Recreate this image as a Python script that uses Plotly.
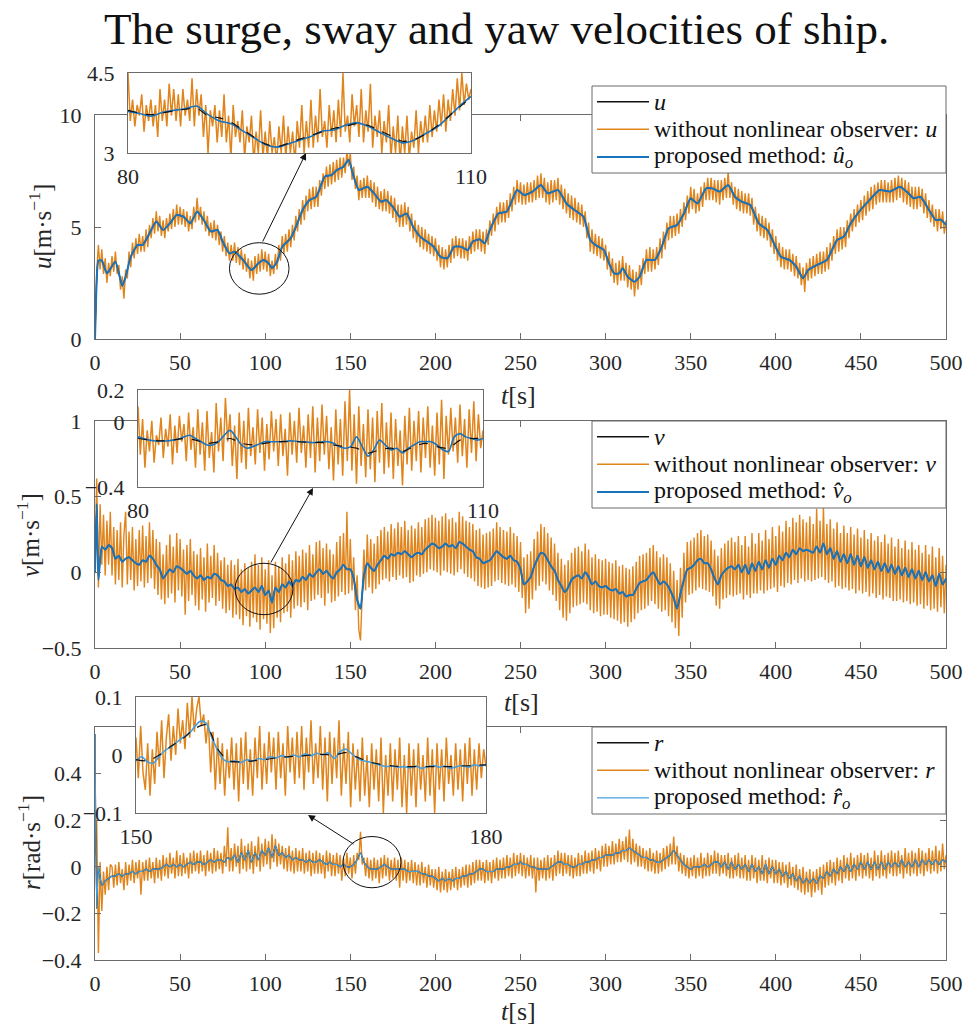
import numpy as np
import plotly.graph_objects as go

# ---------------- DATA ----------------
# main time base for noisy signal (1 s)
t_main = list(range(0, 501))

# ---- surge velocity u ----
u_blue_t = [0, 1, 2, 4, 7, 12, 16, 18, 21, 25, 28, 31, 36, 40, 44, 48, 52, 56, 60, 64, 68, 72, 75, 79, 82,
            87, 92, 96, 99, 102, 104, 107, 110, 115, 118, 122, 126, 130, 135, 139, 142, 146, 149, 152, 155,
            160, 164, 168, 171, 175, 179, 183, 187, 191, 195, 199, 203, 207, 211, 215, 219, 222, 226, 229, 232,
            237, 242, 248, 252, 257, 262, 266, 272, 277, 283, 287, 291, 294, 299, 302, 305, 308, 310, 313, 317,
            320, 324, 329, 333, 337, 342, 346, 350, 354, 359, 363, 367, 372, 376, 380, 385, 390, 395, 398, 403,
            408, 412, 416, 419, 424, 430, 436, 440, 444, 449, 455, 461, 467, 473, 478, 481, 485, 490, 494, 497, 500]
u_blue = [0, 2.6, 3.5, 3.5, 2.93, 3.45, 2.37, 2.78, 3.67, 4.2, 4.2, 4.57, 5.24, 4.87, 5.16, 5.54, 5.46, 5.16, 5.69, 5.3,
          4.8, 4.87, 4.35, 3.82, 3.9, 3.53, 3.08, 3.38, 3.53, 3.38, 3.16, 3.45, 4.12, 4.5, 5.0, 5.76, 6.2, 6.35, 7.25, 7.32,
          7.54, 7.69, 8.0, 7.25, 6.65, 6.8, 6.5, 6.13, 6.2, 5.9, 5.46, 5.6, 5.0, 4.57, 4.35, 4.12, 3.67, 3.6, 4.12, 4.12,
          3.97, 4.35, 4.45, 4.27, 4.87, 5.6, 5.69, 6.65, 6.43, 6.58, 6.87, 6.5, 6.65, 6.05, 5.69, 5.46, 4.42, 4.2, 3.97, 3.38,
          2.93, 2.93, 3.16, 2.78, 2.56, 2.78, 3.53, 3.53, 4.12, 4.94, 5.09, 5.6, 6.28, 6.05, 6.72, 6.72, 6.58, 6.87, 6.35, 6.13,
          5.98, 5.16, 4.87, 4.42, 3.67, 3.53, 3.23, 2.71, 3.08, 3.3, 3.53, 4.42, 4.57, 5.16, 5.69, 6.2, 6.65, 6.58, 6.8, 6.5,
          6.28, 6.35, 5.76, 5.31, 5.33, 5.09]
u_true = u_blue  # true u lies under the estimate in the main view
u_orange = [
    0.0, 3.0, 4.2, 3.1, 4.0, 2.9, 3.6, 2.5, 3.4, 2.8,
    3.7, 3.0, 3.9, 2.9, 3.3, 2.2, 2.8, 1.8, 3.1, 2.7,
    3.9, 3.2, 4.3, 3.6, 4.5, 3.8, 4.7, 3.9, 4.6, 3.9,
    4.9, 4.1, 5.1, 4.5, 5.4, 4.7, 5.7, 4.8, 5.5, 4.6,
    5.3, 4.5, 5.4, 4.8, 5.6, 4.9, 5.8, 5.0, 6.0, 5.1,
    5.9, 5.1, 5.8, 5.0, 5.7, 4.8, 5.5, 4.9, 5.9, 5.2,
    6.3, 5.3, 5.9, 5.1, 5.7, 4.8, 5.5, 4.6, 5.2, 4.5,
    5.3, 4.4, 5.1, 4.2, 4.8, 3.9, 4.6, 3.7, 4.3, 3.5,
    4.2, 3.5, 4.3, 3.4, 4.1, 3.3, 4.0, 3.1, 3.8, 3.0,
    3.6, 2.7, 3.5, 2.6, 3.7, 2.9, 3.8, 3.0, 4.0, 3.1,
    3.9, 3.0, 3.8, 2.8, 3.5, 2.9, 3.8, 3.1, 4.2, 3.5,
    4.6, 3.8, 4.7, 3.9, 4.9, 4.1, 5.1, 4.4, 5.5, 4.8,
    5.8, 5.1, 6.2, 5.3, 6.4, 5.7, 6.7, 5.8, 6.8, 5.9,
    6.8, 5.9, 7.1, 6.4, 7.4, 6.7, 7.7, 6.8, 7.8, 6.9,
    7.9, 7.0, 8.0, 7.1, 8.1, 7.2, 8.1, 7.4, 8.4, 7.7,
    8.3, 7.1, 7.7, 6.7, 7.3, 6.2, 7.1, 6.3, 7.2, 6.3,
    7.3, 6.3, 7.1, 6.1, 7.0, 5.9, 6.8, 5.8, 6.6, 5.7,
    6.7, 5.7, 6.6, 5.6, 6.4, 5.4, 6.3, 5.2, 6.0, 5.0,
    6.0, 5.0, 6.1, 5.1, 5.9, 4.8, 5.6, 4.5, 5.3, 4.3,
    5.1, 4.1, 5.0, 4.0, 4.9, 3.9, 4.7, 3.8, 4.6, 3.7,
    4.5, 3.5, 4.2, 3.2, 4.1, 3.1, 4.0, 3.2, 4.2, 3.4,
    4.5, 3.6, 4.6, 3.7, 4.5, 3.6, 4.5, 3.6, 4.4, 3.5,
    4.6, 3.8, 4.8, 3.9, 4.9, 4.0, 4.9, 3.9, 4.8, 3.8,
    4.9, 4.2, 5.3, 4.6, 5.6, 4.8, 5.9, 5.1, 6.1, 5.2,
    6.1, 5.2, 6.2, 5.4, 6.5, 5.7, 6.8, 6.0, 7.1, 6.1,
    7.0, 6.0, 6.9, 6.0, 7.0, 6.1, 7.0, 6.1, 7.1, 6.2,
    7.3, 6.3, 7.4, 6.3, 7.2, 6.1, 7.0, 6.0, 7.1, 6.1,
    7.1, 6.2, 7.2, 6.0, 6.9, 5.8, 6.7, 5.6, 6.5, 5.4,
    6.4, 5.3, 6.3, 5.2, 6.1, 5.1, 6.0, 5.0, 5.7, 4.5,
    5.2, 3.9, 4.9, 3.8, 4.7, 3.7, 4.6, 3.6, 4.5, 3.5,
    4.2, 3.1, 3.9, 2.8, 3.6, 2.5, 3.4, 2.4, 3.5, 2.6,
    3.7, 2.6, 3.4, 2.3, 3.3, 2.2, 3.1, 1.9, 3.0, 2.2,
    3.3, 2.4, 3.6, 2.9, 4.0, 3.0, 4.1, 3.0, 4.0, 3.1,
    4.1, 3.3, 4.5, 3.6, 4.8, 4.0, 5.2, 4.4, 5.5, 4.5,
    5.5, 4.6, 5.6, 4.7, 5.8, 5.0, 6.1, 5.3, 6.4, 5.6,
    6.8, 5.8, 6.7, 5.6, 6.5, 5.7, 6.8, 5.9, 7.0, 6.2,
    7.2, 6.2, 7.2, 6.2, 7.1, 6.1, 7.1, 6.0, 7.1, 6.2,
    7.2, 6.3, 7.5, 6.3, 7.0, 6.0, 6.8, 5.8, 6.7, 5.7,
    6.6, 5.6, 6.5, 5.6, 6.5, 5.5, 6.3, 5.1, 5.9, 4.8,
    5.6, 4.6, 5.5, 4.5, 5.4, 4.4, 5.2, 4.1, 4.9, 3.8,
    4.6, 3.5, 4.3, 3.2, 4.1, 3.1, 4.0, 3.1, 4.0, 3.0,
    3.8, 2.8, 3.7, 2.7, 3.4, 2.4, 3.2, 2.1, 3.4, 2.6,
    3.6, 2.7, 3.7, 2.8, 3.8, 2.9, 3.9, 2.9, 3.9, 3.0,
    4.1, 3.1, 4.3, 3.5, 4.6, 3.8, 4.9, 3.9, 5.0, 4.0,
    5.0, 4.1, 5.3, 4.5, 5.6, 4.8, 5.8, 5.0, 6.0, 5.2,
    6.2, 5.3, 6.4, 5.5, 6.6, 5.7, 6.8, 5.8, 6.9, 6.0,
    7.0, 6.1, 7.1, 6.1, 7.1, 6.1, 7.0, 6.1, 7.1, 6.1,
    7.2, 6.2, 7.3, 6.3, 7.2, 6.1, 7.1, 6.0, 7.0, 5.9,
    6.8, 5.8, 6.8, 5.8, 6.8, 5.9, 6.7, 5.6, 6.5, 5.4,
    6.2, 5.2, 6.0, 5.0, 5.8, 4.8, 5.8, 4.9, 5.7, 4.7,
    5.3]

# inset u (80-110 s)
u_in_t_fast = [round(80 + 0.2 * i, 1) for i in range(151)]
u_in_orange = [
    4.5, 3.6, 4.0, 3.5, 3.9, 3.7, 4.1, 3.4, 3.9, 3.6,
    4.0, 3.5, 3.9, 3.3, 4.2, 3.6, 4.0, 3.5, 4.3, 3.7,
    4.2, 3.6, 4.1, 3.5, 4.2, 3.7, 4.0, 3.6, 4.4, 3.5,
    4.2, 3.7, 4.1, 3.3, 3.9, 3.0, 3.8, 3.5, 3.9, 3.2,
    3.8, 3.3, 4.1, 3.2, 3.7, 2.9, 3.9, 3.3, 3.6, 3.2,
    3.8, 2.9, 3.5, 3.2, 3.7, 2.8, 3.4, 3.0, 3.8, 2.9,
    3.4, 2.9, 3.6, 3.0, 3.3, 2.8, 3.5, 3.0, 3.7, 2.9,
    3.5, 3.0, 3.4, 2.8, 3.6, 3.1, 3.9, 3.0, 3.6, 3.1,
    4.0, 3.1, 3.7, 3.2, 4.2, 3.3, 3.6, 3.1, 3.9, 3.3,
    3.8, 3.2, 4.0, 3.3, 4.5, 3.4, 3.7, 3.2, 4.1, 3.5,
    3.9, 3.3, 4.2, 3.2, 3.8, 3.4, 4.3, 3.1, 3.7, 3.3,
    3.8, 3.0, 3.6, 3.2, 3.9, 2.9, 3.5, 3.0, 3.7, 2.8,
    3.5, 3.0, 3.7, 2.9, 3.4, 3.1, 3.8, 3.0, 3.6, 3.2,
    3.7, 3.2, 3.9, 3.3, 3.8, 3.4, 4.0, 3.5, 4.1, 3.4,
    4.0, 3.6, 4.2, 3.7, 4.4, 3.8, 4.5, 3.9, 4.3, 4.0,
    4.2]
u_in_t_slow = list(range(80, 111))
u_in_blue = [3.78, 3.74, 3.69, 3.76, 3.80, 3.83, 3.88, 3.72, 3.60, 3.55, 3.42, 3.29, 3.16, 3.11, 3.17, 3.24,
             3.31, 3.41, 3.43, 3.52, 3.57, 3.50, 3.39, 3.28, 3.19, 3.24, 3.36, 3.48, 3.67, 3.88, 4.06]
u_in_true = [3.80, 3.75, 3.72, 3.75, 3.79, 3.82, 3.84, 3.70, 3.66, 3.58, 3.44, 3.30, 3.17, 3.12, 3.18, 3.26,
             3.33, 3.40, 3.46, 3.50, 3.55, 3.52, 3.42, 3.32, 3.22, 3.25, 3.35, 3.50, 3.68, 3.86, 4.04]

# ---- sway velocity v ----
v_blue_t = [0, 1] + list(range(2, 501, 2))
v_blue = [0.0, 0.45,
    -0.05, 0.17, 0.15, 0.18, 0.16, 0.09, 0.11, 0.07, 0.09, 0.10,
    0.08, 0.06, 0.05, 0.08, 0.07, 0.11, 0.09, 0.05, 0.02, -0.04,
    -0.01, 0.02, 0.00, 0.04, 0.03, 0.01, -0.01, 0.01, -0.02, -0.04,
    -0.02, -0.05, -0.03, -0.04, -0.01, -0.02, -0.05, -0.06, -0.09, -0.08,
    -0.11, -0.10, -0.13, -0.11, -0.14, -0.12, -0.10, -0.13, -0.09, -0.15,
    -0.12, -0.20, -0.10, -0.13, -0.08, -0.10, -0.06, -0.09, -0.05, -0.06,
    -0.03, -0.05, -0.01, -0.03, 0.00, 0.02, -0.01, 0.01, -0.02, -0.04,
    0.00, 0.02, 0.05, 0.02, 0.02, -0.04, -0.18, -0.24, -0.02, 0.06,
    0.03, 0.01, 0.05, 0.08, 0.11, 0.09, 0.12, 0.11, 0.13, 0.12,
    0.14, 0.12, 0.10, 0.12, 0.13, 0.12, 0.15, 0.17, 0.19, 0.18,
    0.16, 0.17, 0.19, 0.17, 0.18, 0.16, 0.20, 0.19, 0.17, 0.15,
    0.14, 0.10, 0.09, 0.06, 0.07, 0.08, 0.11, 0.14, 0.12, 0.10,
    0.09, 0.11, 0.08, 0.07, 0.02, -0.08, -0.06, -0.03, 0.04, 0.09,
    0.13, 0.12, 0.08, 0.04, 0.01, -0.05, -0.09, -0.13, -0.10, -0.05,
    -0.03, -0.02, -0.04, 0.00, -0.03, -0.08, -0.06, -0.09, -0.10, -0.09,
    -0.11, -0.12, -0.11, -0.14, -0.13, -0.16, -0.15, -0.15, -0.11, -0.07,
    -0.06, -0.05, -0.02, 0.00, -0.04, -0.08, -0.06, -0.08, -0.12, -0.17,
    -0.24, -0.14, -0.05, 0.02, 0.03, 0.05, 0.08, 0.09, 0.06, 0.06,
    0.02, -0.04, -0.08, -0.02, 0.01, 0.03, 0.04, 0.02, 0.05, 0.00,
    0.05, -0.01, 0.06, 0.01, 0.07, 0.02, 0.08, 0.03, 0.09, 0.05,
    0.11, 0.08, 0.13, 0.10, 0.15, 0.12, 0.16, 0.14, 0.15, 0.14,
    0.13, 0.17, 0.13, 0.19, 0.12, 0.16, 0.09, 0.14, 0.07, 0.12,
    0.06, 0.12, 0.05, 0.11, 0.04, 0.10, 0.03, 0.08, 0.02, 0.07,
    0.01, 0.06, 0.00, 0.05, -0.01, 0.04, -0.02, 0.03, -0.03, 0.02,
    -0.04, 0.01, -0.05, 0.00, -0.06, -0.02, -0.09, -0.01, -0.08, -0.04]
v_true = v_blue
v_orange = [
    0.00, 0.62, -0.10, 0.45, 0.05, 0.38, -0.02, 0.34, 0.05, 0.40,
    -0.02, 0.30, -0.08, 0.28, -0.05, 0.33, -0.10, 0.25, 0.40, -0.08,
    0.27, -0.05, 0.30, -0.12, 0.22, -0.09, 0.28, -0.06, 0.31, -0.10,
    0.24, -0.07, 0.33, -0.04, 0.28, -0.11, 0.22, -0.15, 0.20, -0.18,
    0.12, -0.21, 0.18, -0.17, 0.25, -0.14, 0.17, -0.20, 0.26, -0.12,
    0.22, -0.16, 0.15, -0.28, 0.18, -0.19, 0.22, -0.15, 0.14, -0.22,
    0.12, -0.25, 0.16, -0.18, 0.10, -0.26, 0.19, -0.20, 0.11, -0.17,
    0.18, -0.22, 0.13, -0.19, 0.08, -0.24, 0.10, -0.27, 0.05, -0.25,
    0.08, -0.30, 0.05, -0.28, 0.09, -0.31, 0.02, -0.35, 0.06, -0.29,
    0.03, -0.36, 0.07, -0.30, 0.12, -0.33, 0.05, -0.38, 0.10, -0.31,
    0.02, -0.34, 0.08, -0.40, -0.02, -0.37, 0.07, -0.30, 0.04, -0.33,
    0.10, -0.27, 0.06, -0.26, 0.12, -0.30, 0.08, -0.24, 0.14, -0.22,
    0.11, -0.23, 0.15, -0.20, 0.13, -0.25, 0.18, -0.19, 0.12, -0.18,
    0.20, -0.15, 0.21, -0.17, 0.16, -0.22, 0.19, -0.14, 0.15, -0.20,
    0.12, -0.19, 0.20, -0.16, 0.24, -0.13, 0.26, -0.15, 0.40, -0.14,
    0.22, -0.12, 0.10, -0.25, -0.02, -0.38, -0.45, -0.20, 0.15, -0.12,
    0.25, -0.10, 0.22, -0.14, 0.19, -0.11, 0.24, -0.08, 0.28, -0.05,
    0.30, -0.04, 0.27, -0.06, 0.32, -0.03, 0.29, -0.05, 0.33, -0.02,
    0.30, -0.04, 0.34, -0.03, 0.28, -0.07, 0.31, -0.06, 0.29, -0.02,
    0.33, -0.03, 0.30, -0.01, 0.35, 0.00, 0.36, 0.02, 0.38, 0.01,
    0.36, 0.00, 0.34, -0.02, 0.37, 0.01, 0.39, 0.00, 0.35, -0.01,
    0.36, -0.02, 0.33, 0.00, 0.40, 0.02, 0.37, -0.01, 0.34, -0.03,
    0.33, -0.04, 0.32, -0.06, 0.28, -0.09, 0.29, -0.10, 0.25, -0.11,
    0.26, -0.10, 0.27, -0.09, 0.29, -0.06, 0.33, -0.05, 0.30, -0.07,
    0.28, -0.08, 0.27, -0.09, 0.30, -0.08, 0.26, -0.10, 0.24, -0.13,
    0.20, -0.17, 0.10, -0.27, 0.12, -0.24, 0.14, -0.18, 0.22, -0.12,
    0.27, -0.09, 0.32, -0.06, 0.30, -0.08, 0.26, -0.12, 0.23, -0.15,
    0.19, -0.19, 0.13, -0.25, 0.09, -0.30, 0.05, -0.32, 0.08, -0.27,
    0.13, -0.23, 0.16, -0.22, 0.17, -0.21, 0.14, -0.20, 0.19, -0.21,
    0.15, -0.25, 0.10, -0.27, 0.12, -0.26, 0.09, -0.29, 0.08, -0.28,
    0.09, -0.28, 0.07, -0.30, 0.06, -0.31, 0.08, -0.32, 0.04, -0.34,
    0.05, -0.33, 0.03, -0.36, 0.02, -0.33, 0.04, -0.31, 0.07, -0.27,
    0.11, -0.25, 0.12, -0.24, 0.13, -0.22, 0.16, -0.19, 0.18, -0.21,
    0.14, -0.24, 0.10, -0.26, 0.12, -0.25, 0.10, -0.29, 0.06, -0.33,
    0.01, -0.37, -0.05, -0.42, 0.03, -0.30, 0.13, -0.20, 0.20, -0.15,
    0.21, -0.14, 0.23, -0.12, 0.26, -0.10, 0.28, -0.11, 0.24, -0.12,
    0.25, -0.13, 0.21, -0.16, 0.15, -0.22, 0.11, -0.24, 0.16, -0.18,
    0.19, -0.17, 0.21, -0.15, 0.23, -0.16, 0.20, -0.15, 0.24, -0.14,
    0.18, -0.18, 0.24, -0.15, 0.17, -0.17, 0.26, -0.14, 0.19, -0.14,
    0.26, -0.12, 0.21, -0.14, 0.28, -0.12, 0.22, -0.11, 0.30, -0.10,
    0.24, -0.13, 0.31, -0.09, 0.27, -0.10, 0.34, -0.07, 0.30, -0.08,
    0.36, -0.05, 0.33, -0.07, 0.38, -0.04, 0.35, -0.06, 0.33, -0.05,
    0.37, -0.06, 0.32, -0.05, 0.42, -0.04, 0.34, -0.03, 0.43, -0.05,
    0.32, -0.07, 0.35, -0.06, 0.29, -0.10, 0.33, -0.09, 0.26, -0.11,
    0.31, -0.10, 0.26, -0.12, 0.30, -0.11, 0.25, -0.14, 0.29, -0.12,
    0.23, -0.14, 0.28, -0.13, 0.22, -0.16, 0.26, -0.14, 0.21, -0.17,
    0.24, -0.15, 0.20, -0.18, 0.25, -0.16, 0.19, -0.17, 0.23, -0.19,
    0.17, -0.19, 0.22, -0.18, 0.16, -0.20, 0.21, -0.19, 0.15, -0.21,
    0.20, -0.20, 0.15, -0.22, 0.18, -0.21, 0.13, -0.24, 0.18, -0.22,
    0.12, -0.25, 0.17, -0.24, 0.10, -0.26, 0.16, -0.23, 0.11, -0.27,
    0.05]

# inset v (80-110 s)
v_in_t_fast = [round(80 + 0.2 * i, 1) for i in range(151)]
v_in_orange = [
    0.10, -0.20, 0.02, -0.28, -0.05, -0.18, 0.01, -0.25, -0.08, -0.14,
    0.03, -0.22, -0.04, -0.15, 0.05, -0.26, -0.02, -0.19, 0.04, -0.12,
    -0.01, -0.24, 0.06, -0.17, -0.03, -0.28, 0.08, -0.20, 0.00, -0.30,
    0.07, -0.22, -0.06, -0.31, 0.12, -0.18, 0.03, -0.24, 0.15, -0.12,
    0.05, -0.27, -0.02, -0.35, 0.06, -0.25, 0.01, -0.29, 0.09, -0.21,
    -0.03, -0.26, 0.08, -0.19, 0.03, -0.30, -0.01, -0.23, 0.07, -0.18,
    0.02, -0.27, 0.05, -0.21, -0.04, -0.33, 0.06, -0.20, 0.01, -0.25,
    0.09, -0.19, -0.02, -0.28, 0.05, -0.22, 0.10, -0.31, 0.03, -0.24,
    0.11, -0.20, 0.04, -0.29, -0.03, -0.36, 0.08, -0.26, 0.02, -0.33,
    0.13, -0.24, 0.20, -0.30, 0.05, -0.38, 0.10, -0.27, -0.01, -0.34,
    0.08, -0.29, 0.03, -0.37, 0.07, -0.25, 0.12, -0.32, 0.00, -0.28,
    0.06, -0.35, 0.02, -0.27, -0.05, -0.39, 0.04, -0.26, 0.09, -0.30,
    0.01, -0.24, 0.07, -0.31, 0.03, -0.22, 0.10, -0.28, -0.02, -0.33,
    0.06, -0.26, 0.14, -0.35, 0.04, -0.20, 0.09, -0.18, 0.03, -0.25,
    0.11, -0.21, 0.02, -0.28, 0.08, -0.19, 0.13, -0.24, 0.05, -0.16,
    -0.05]
v_in_t_mid = [80 + 0.5 * i for i in range(61)]
v_in_blue = [-0.09, -0.10, -0.11, -0.115, -0.115, -0.115, -0.11, -0.105, -0.09, -0.08,
             -0.10, -0.12, -0.14, -0.14, -0.12, -0.08, -0.05, -0.09, -0.14, -0.16,
             -0.15, -0.135, -0.12, -0.12, -0.12, -0.12, -0.115, -0.115, -0.12, -0.12,
             -0.125, -0.125, -0.12, -0.12, -0.13, -0.15, -0.16, -0.15, -0.09, -0.15,
             -0.21, -0.17, -0.11, -0.14, -0.17, -0.16, -0.19, -0.16, -0.14, -0.12,
             -0.12, -0.12, -0.14, -0.17, -0.18, -0.09, -0.07, -0.09, -0.10, -0.11,
             -0.10]
v_in_t_slow = list(range(80, 111))
v_in_true = [-0.10, -0.11, -0.115, -0.11, -0.10, -0.11, -0.13, -0.12, -0.10, -0.13, -0.14,
             -0.13, -0.12, -0.12, -0.12, -0.125, -0.125, -0.14, -0.15, -0.16, -0.19,
             -0.17, -0.16, -0.18, -0.15, -0.13, -0.15, -0.16, -0.11, -0.10, -0.10]

# ---- yaw velocity r ----
r_blue_t = [0, 1] + list(range(2, 501, 2))
r_blue = [0.57, -0.18,
    0.00, -0.08, -0.06, -0.05, -0.04, -0.04, -0.03, -0.04, -0.03, -0.03,
    -0.02, -0.03, -0.02, -0.02, -0.01, -0.02, -0.01, -0.01, -0.01, 0.00,
    0.01, 0.00, 0.01, 0.00, 0.01, 0.00, 0.01, 0.02, 0.01, 0.02,
    0.02, 0.01, 0.02, 0.03, 0.02, 0.03, 0.03, 0.02, 0.04, 0.03,
    0.05, 0.02, 0.06, 0.03, 0.07, 0.02, 0.06, 0.03, 0.07, 0.05,
    0.08, 0.04, 0.09, 0.05, 0.06, 0.04, 0.05, 0.03, 0.04, 0.03,
    0.03, 0.02, 0.03, 0.02, 0.02, 0.03, 0.02, 0.01, 0.02, 0.01,
    0.01, 0.00, 0.01, 0.00, 0.00, 0.01, 0.03, 0.06, 0.02, 0.00,
    -0.01, -0.01, -0.01, 0.00, 0.01, 0.00, -0.01, -0.01, -0.01, -0.01,
    -0.01, -0.02, -0.02, -0.02, -0.02, -0.03, -0.03, -0.04, -0.04, -0.05,
    -0.06, -0.05, -0.06, -0.05, -0.06, -0.05, -0.05, -0.04, -0.04, -0.03,
    -0.03, -0.02, -0.01, -0.01, -0.02, -0.02, -0.02, -0.01, -0.01, -0.01,
    0.00, 0.00, 0.01, 0.01, 0.02, 0.01, 0.01, 0.00, 0.00, -0.01,
    -0.01, -0.01, -0.01, 0.00, 0.01, 0.02, 0.02, 0.01, 0.01, 0.00,
    0.00, 0.01, 0.01, 0.02, 0.02, 0.03, 0.03, 0.04, 0.04, 0.05,
    0.05, 0.05, 0.06, 0.06, 0.07, 0.07, 0.08, 0.07, 0.06, 0.05,
    0.04, 0.04, 0.03, 0.03, 0.02, 0.02, 0.03, 0.04, 0.05, 0.07,
    0.05, 0.03, 0.01, 0.00, -0.01, 0.00, 0.00, 0.00, 0.01, 0.00,
    0.01, 0.02, 0.02, 0.00, 0.02, -0.01, 0.02, -0.01, 0.01, -0.01,
    0.01, -0.02, 0.01, -0.02, 0.00, -0.03, 0.01, -0.03, 0.00, -0.03,
    -0.01, -0.04, -0.02, -0.05, -0.03, -0.06, -0.04, -0.07, -0.05, -0.07,
    -0.05, -0.07, -0.04, -0.05, -0.02, -0.04, -0.01, -0.03, 0.00, -0.02,
    0.01, -0.02, 0.01, -0.01, 0.02, -0.01, 0.02, -0.01, 0.02, -0.01,
    0.02, -0.01, 0.02, 0.00, 0.02, 0.00, 0.03, 0.00, 0.02, 0.00,
    0.03, 0.00, 0.03, 0.01, 0.03, 0.01, 0.03, 0.01, 0.03, 0.02]
r_true = r_blue
r_orange = [
    0.05, 0.20, -0.37, 0.02, -0.19, -0.02, -0.12, 0.00, -0.10, 0.01,
    0.00, -0.09, 0.01, -0.08, 0.02, -0.07, -0.01, -0.10, 0.02, -0.08,
    0.01, -0.06, 0.03, -0.07, 0.02, -0.05, 0.03, -0.12, 0.02, -0.06,
    0.03, -0.06, 0.04, -0.05, 0.02, -0.07, 0.04, -0.05, 0.03, -0.06,
    0.05, -0.04, 0.04, -0.05, 0.06, -0.03, 0.04, -0.05, 0.07, -0.04,
    0.05, -0.04, 0.06, -0.03, 0.04, -0.05, 0.06, -0.03, 0.07, -0.02,
    0.06, -0.03, 0.07, -0.02, 0.05, -0.04, 0.07, -0.02, 0.06, -0.03,
    0.08, -0.02, 0.07, -0.01, 0.06, -0.03, 0.09, 0.00, 0.17, -0.02,
    0.08, -0.02, 0.10, 0.00, 0.09, -0.03, 0.12, -0.01, 0.09, -0.02,
    0.10, -0.01, 0.11, -0.03, 0.09, 0.00, 0.13, -0.02, 0.10, 0.00,
    0.12, 0.01, 0.11, -0.01, 0.14, 0.02, 0.12, 0.00, 0.10, 0.01,
    0.09, -0.01, 0.08, -0.02, 0.09, -0.02, 0.07, -0.03, 0.08, -0.02,
    0.07, -0.02, 0.08, -0.03, 0.06, -0.02, 0.07, -0.04, 0.06, -0.03,
    0.07, -0.03, 0.06, -0.03, 0.05, -0.05, 0.07, -0.02, 0.06, -0.04,
    0.05, -0.04, 0.06, -0.03, 0.05, -0.06, 0.04, -0.04, 0.06, -0.03,
    0.04, -0.05, 0.05, -0.03, 0.06, 0.03, 0.15, 0.01, 0.04, -0.04,
    0.04, -0.05, 0.03, -0.06, 0.04, -0.05, 0.03, -0.07, 0.04, -0.05,
    0.05, -0.04, 0.04, -0.06, 0.03, -0.05, 0.04, -0.06, 0.03, -0.09,
    0.04, -0.06, 0.03, -0.07, 0.02, -0.06, 0.03, -0.07, 0.02, -0.08,
    0.01, -0.08, 0.02, -0.07, 0.00, -0.09, 0.01, -0.08, -0.01, -0.09,
    -0.01, -0.10, 0.00, -0.11, -0.02, -0.10, -0.01, -0.11, -0.02, -0.10,
    -0.01, -0.09, 0.00, -0.10, -0.01, -0.09, 0.00, -0.08, 0.01, -0.09,
    0.01, -0.08, 0.02, -0.07, 0.03, -0.06, 0.03, -0.06, 0.02, -0.07,
    0.03, -0.06, 0.02, -0.07, 0.03, -0.05, 0.04, -0.06, 0.03, -0.05,
    0.04, -0.05, 0.05, -0.04, 0.04, -0.05, 0.06, -0.04, 0.05, -0.03,
    0.06, -0.04, 0.05, -0.05, 0.04, -0.04, 0.05, -0.05, 0.04, -0.11,
    0.04, -0.06, 0.03, -0.05, 0.04, -0.06, 0.05, -0.05, 0.04, -0.06,
    0.05, -0.04, 0.07, -0.03, 0.06, -0.04, 0.06, -0.03, 0.05, -0.04,
    0.05, -0.05, 0.04, -0.04, 0.06, -0.04, 0.05, -0.03, 0.07, -0.03,
    0.06, -0.02, 0.07, -0.03, 0.08, -0.01, 0.07, -0.02, 0.09, 0.00,
    0.10, 0.00, 0.09, 0.01, 0.11, 0.01, 0.10, 0.02, 0.12, 0.02,
    0.11, 0.03, 0.13, 0.02, 0.16, 0.01, 0.12, 0.02, 0.10, 0.00,
    0.09, 0.00, 0.08, -0.01, 0.07, -0.02, 0.08, -0.02, 0.06, -0.03,
    0.07, -0.03, 0.06, -0.02, 0.08, -0.01, 0.09, 0.00, 0.10, 0.01,
    0.13, 0.01, 0.09, -0.02, 0.06, -0.03, 0.05, -0.04, 0.04, -0.05,
    0.04, -0.04, 0.05, -0.05, 0.04, -0.04, 0.06, -0.05, 0.04, -0.04,
    0.06, -0.04, 0.05, -0.03, 0.07, -0.03, 0.06, -0.04, 0.05, -0.03,
    0.05, -0.04, 0.06, -0.05, 0.04, -0.05, 0.05, -0.04, 0.06, -0.05,
    0.04, -0.05, 0.05, -0.06, 0.03, -0.06, 0.05, -0.05, 0.04, -0.07,
    0.03, -0.06, 0.05, -0.06, 0.03, -0.07, 0.04, -0.05, 0.03, -0.07,
    0.03, -0.07, 0.02, -0.08, 0.02, -0.07, 0.01, -0.09, 0.02, -0.08,
    0.00, -0.09, 0.01, -0.10, -0.01, -0.11, 0.00, -0.12, -0.02, -0.11,
    -0.01, -0.13, -0.02, -0.11, -0.01, -0.10, 0.00, -0.12, 0.01, -0.09,
    0.02, -0.08, 0.03, -0.07, 0.02, -0.08, 0.04, -0.06, 0.03, -0.07,
    0.05, -0.05, 0.04, -0.06, 0.06, -0.05, 0.04, -0.06, 0.05, -0.04,
    0.06, -0.05, 0.05, -0.04, 0.06, -0.05, 0.04, -0.06, 0.07, -0.04,
    0.05, -0.05, 0.07, -0.04, 0.05, -0.05, 0.06, -0.03, 0.07, -0.04,
    0.06, -0.04, 0.07, -0.03, 0.05, -0.05, 0.08, -0.03, 0.06, -0.04,
    0.07, -0.03, 0.06, -0.04, 0.08, -0.03, 0.07, -0.04, 0.06, -0.02,
    0.08, -0.03, 0.07, -0.02, 0.09, -0.03, 0.07, -0.02, 0.10, -0.01,
    0.05]

# inset r (150-180 s)
r_in_t_fast = [round(150 + 0.2 * i, 1) for i in range(151)]
r_in_orange = [
    0.03, -0.04, 0.05, -0.03, -0.06, 0.02, -0.07, 0.01, -0.05, 0.04,
    -0.02, 0.06, -0.04, 0.03, 0.07, -0.01, 0.05, 0.00, 0.08, 0.02,
    0.06, 0.01, 0.09, 0.03, 0.10, 0.04, 0.08, 0.10, 0.05, 0.07,
    0.02, 0.06, -0.03, 0.04, -0.06, 0.03, -0.05, 0.02, -0.07, 0.01,
    -0.04, 0.03, -0.06, 0.02, -0.08, 0.03, -0.05, 0.04, -0.06, 0.01,
    -0.07, 0.03, -0.04, 0.05, -0.06, 0.02, -0.05, 0.04, -0.03, 0.03,
    -0.06, 0.04, -0.04, 0.02, -0.07, 0.05, -0.03, 0.03, -0.05, 0.04,
    -0.04, 0.05, -0.06, 0.03, -0.03, 0.06, -0.05, 0.02, -0.04, 0.05,
    -0.06, 0.03, -0.08, 0.04, -0.05, 0.03, -0.04, 0.06, -0.07, 0.02,
    -0.05, 0.04, -0.09, 0.02, -0.06, 0.01, -0.08, 0.03, -0.07, 0.00,
    -0.09, 0.02, -0.06, 0.01, -0.08, 0.03, -0.10, 0.00, -0.07, 0.02,
    -0.08, 0.01, -0.06, 0.03, -0.09, 0.00, -0.10, 0.02, -0.07, 0.01,
    -0.09, 0.02, -0.06, 0.00, -0.08, 0.03, -0.07, 0.01, -0.10, 0.02,
    -0.06, 0.01, -0.08, 0.03, -0.05, 0.00, -0.07, 0.02, -0.06, 0.01,
    -0.08, 0.02, -0.05, 0.03, -0.07, 0.01, -0.06, 0.02, -0.04, 0.01,
    -0.02]
r_in_t_mid = [150 + 0.5 * i for i in range(61)]
r_in_blue = [-0.010, -0.003, -0.012, -0.014, -0.002, 0.008, 0.014, 0.022, 0.030, 0.036,
             0.048, 0.058, 0.055, 0.030, 0.008, -0.008, -0.012, -0.010, -0.013, -0.008,
             -0.011, -0.006, -0.008, -0.003, -0.005, -0.001, -0.004, 0.000, -0.003, 0.002,
             -0.001, 0.003, 0.000, 0.004, -0.006, 0.006, 0.010, 0.002, -0.006, -0.010,
             -0.012, -0.015, -0.018, -0.020, -0.019, -0.021, -0.020, -0.022, -0.019, -0.023,
             -0.020, -0.018, -0.021, -0.019, -0.023, -0.020, -0.018, -0.021, -0.017, -0.019,
             -0.016]
r_in_t_slow = list(range(150, 181))
r_in_true = [-0.008, -0.010, 0.000, 0.015, 0.028, 0.045, 0.052, 0.010, -0.010, -0.012, -0.010,
             -0.008, -0.005, -0.003, -0.002, 0.000, 0.001, 0.000, 0.004, -0.004, -0.012,
             -0.016, -0.019, -0.020, -0.020, -0.020, -0.020, -0.020, -0.019, -0.018, -0.017]

# ---------------- STYLE ----------------
W, H = 966, 1026
SERIF = "Liberation Serif, Times New Roman, serif"
AXC = "#6b6b6b"
TXT = "#262626"
ORANGE = "#E0841C"
BLUE = "#1A74BC"
BLUE_R = "#46A0DC"
BLACK = "#111111"


def px(xp):
    return xp / W


def py(yp):
    return 1 - yp / H


def sl(t, v):
    n = min(len(t), len(v))
    return list(t[:n]), list(v[:n])


fig = go.Figure()

panels = [
    dict(m=("x", "y"), i=("x2", "y2"), sym="u",
         orange=u_orange, bt=u_blue_t, blue=u_blue, true=u_true,
         it_f=u_in_t_fast, i_or=u_in_orange, it_b=u_in_t_slow, i_blue=u_in_blue,
         it_s=u_in_t_slow, i_true=u_in_true, bcol=BLUE, bw=2.0,
         hat="<i>û</i><sub><i>o</i></sub>", legtop=86),
    dict(m=("x3", "y3"), i=("x4", "y4"), sym="v",
         orange=v_orange, bt=v_blue_t, blue=v_blue, true=v_true,
         it_f=v_in_t_fast, i_or=v_in_orange, it_b=v_in_t_mid, i_blue=v_in_blue,
         it_s=v_in_t_slow, i_true=v_in_true, bcol=BLUE, bw=2.0,
         hat="<i>v̂</i><sub><i>o</i></sub>", legtop=421),
    dict(m=("x5", "y5"), i=("x6", "y6"), sym="r",
         orange=r_orange, bt=r_blue_t, blue=r_blue, true=r_true,
         it_f=r_in_t_fast, i_or=r_in_orange, it_b=r_in_t_mid, i_blue=r_in_blue,
         it_s=r_in_t_slow, i_true=r_in_true, bcol=BLUE_R, bw=1.2,
         hat="<i>r̂</i><sub><i>o</i></sub>", legtop=727),
]

for p in panels:
    mx, my = p["m"]
    ix, iy = p["i"]
    x, y = sl(t_main, p["orange"])
    fig.add_trace(go.Scatter(x=x, y=y, mode="lines", xaxis=mx, yaxis=my,
                             line=dict(color=ORANGE, width=1.4),
                             name="without nonlinear observer: %s" % p["sym"]))
    x, y = sl(p["bt"], p["true"])
    fig.add_trace(go.Scatter(x=x, y=y, mode="lines", xaxis=mx, yaxis=my,
                             line=dict(color=BLACK, width=1.2, shape="spline", smoothing=0.5),
                             name=p["sym"]))
    x, y = sl(p["bt"], p["blue"])
    fig.add_trace(go.Scatter(x=x, y=y, mode="lines", xaxis=mx, yaxis=my,
                             line=dict(color=p["bcol"], width=p["bw"], shape="spline", smoothing=0.5),
                             name="proposed method"))
    # inset
    x, y = sl(p["it_f"], p["i_or"])
    fig.add_trace(go.Scatter(x=x, y=y, mode="lines", xaxis=ix, yaxis=iy,
                             line=dict(color=ORANGE, width=1.5)))
    x, y = sl(p["it_b"], p["i_blue"])
    fig.add_trace(go.Scatter(x=x, y=y, mode="lines", xaxis=ix, yaxis=iy,
                             line=dict(color=p["bcol"], width=1.6, shape="spline", smoothing=0.8)))
    x, y = sl(p["it_s"], p["i_true"])
    fig.add_trace(go.Scatter(x=x, y=y, mode="lines", xaxis=ix, yaxis=iy,
                             line=dict(color=BLACK, width=1.2, dash="dash", shape="spline",
                                       smoothing=0.8)))

tickfont = dict(family=SERIF, size=22, color=TXT)


def main_x(anchor):
    return dict(domain=[px(95), px(946)], range=[0, 500], tickvals=list(range(0, 501, 50)),
                ticks="inside", ticklen=6, tickcolor=AXC, showline=True, linecolor=AXC,
                linewidth=1, mirror="ticks", showgrid=False, zeroline=False,
                tickfont=tickfont, anchor=anchor, ticklabelstandoff=4, automargin=False)


def main_y(y0, y1, rng, tv, anchor):
    return dict(domain=[py(y1), py(y0)], range=rng, tickvals=tv,
                ticks="inside", ticklen=6, tickcolor=AXC, showline=True, linecolor=AXC,
                linewidth=1, mirror="ticks", showgrid=False, zeroline=False,
                tickfont=tickfont, anchor=anchor, ticklabelstandoff=8, automargin=False)


def inset_x(x0, x1, rng, anchor):
    return dict(domain=[px(x0), px(x1)], range=rng, tickvals=rng, ticks="",
                showline=True, linecolor=AXC, linewidth=1, mirror=True, showgrid=False,
                zeroline=False, tickfont=tickfont, anchor=anchor, ticklabelstandoff=4,
                automargin=False)


def inset_y(y0, y1, rng, tv, anchor):
    return dict(domain=[py(y1), py(y0)], range=rng, tickvals=tv, ticks="",
                showline=True, linecolor=AXC, linewidth=1, mirror=True, showgrid=False,
                zeroline=False, tickfont=tickfont, anchor=anchor, ticklabelstandoff=8,
                automargin=False)


fig.update_layout(
    width=W, height=H, margin=dict(l=0, r=0, t=0, b=0, pad=0, autoexpand=False),
    paper_bgcolor="white", plot_bgcolor="white", showlegend=False,
    font=dict(family=SERIF, color=TXT),
    xaxis=main_x("y"),
    yaxis=main_y(115, 339, [0, 10], [0, 5, 10], "x"),
    xaxis2=inset_x(128, 471, [80, 110], "y2"),
    yaxis2=inset_y(73, 153, [3, 4.5], [3, 4.5], "x2"),
    xaxis3=main_x("y3"),
    yaxis3=main_y(421, 648, [-0.5, 1], [-0.5, 0, 0.5, 1], "x3"),
    xaxis4=inset_x(138, 483, [80, 110], "y4"),
    yaxis4=inset_y(390, 487, [-0.4, 0.2], [-0.4, 0, 0.2], "x4"),
    xaxis5=main_x("y5"),
    yaxis5=main_y(727, 960, [-0.4, 0.6], [-0.4, -0.2, 0, 0.2, 0.4], "x5"),
    xaxis6=inset_x(136, 486, [150, 180], "y6"),
    yaxis6=inset_y(697, 813, [-0.1, 0.1], [-0.1, 0, 0.1], "x6"),
)

# ellipses marking the zoomed region
for (xr, yr, x0, x1, y0, y1) in [("x", "y", 79, 114, 2.0, 4.3),
                                   ("x3", "y3", 82.3, 116.3, -0.28, 0.06),
                                   ("x5", "y5", 145.7, 179.8, -0.09, 0.13)]:
    fig.add_shape(type="circle", xref=xr, yref=yr, x0=x0, x1=x1, y0=y0, y1=y1,
                  line=dict(color=BLACK, width=1))

# legends (drawn as boxes with sample lines and labels)
for p in panels:
    top = p["legtop"]
    fig.add_shape(type="rect", xref="paper", yref="paper", x0=px(592), x1=px(946),
                  y0=py(top + 87), y1=py(top), fillcolor="white",
                  line=dict(color=AXC, width=1), layer="above")
    rows = [(BLACK, 1.4, "<i>%s</i>" % p["sym"]),
            (ORANGE, 1.6, "without nonlinear observer: <i>%s</i>" % p["sym"]),
            (p["bcol"], max(p["bw"], 1.4), "proposed method: " + p["hat"])]
    for k, (col, lw, txt) in enumerate(rows):
        yy = top + 15.7 + 27.6 * k
        fig.add_shape(type="line", xref="paper", yref="paper", x0=px(597), x1=px(649),
                      y0=py(yy), y1=py(yy), line=dict(color=col, width=lw), layer="above")
        fig.add_annotation(x=px(652), y=py(yy), xref="paper", yref="paper", text=txt,
                           xanchor="left", yanchor="middle", showarrow=False,
                           font=dict(family=SERIF, size=24, color=BLACK))

# arrows
for (hx, hy, ax, ay) in [(306, 153, -44, 90), (313, 488, -43, 76), (308, 815, 47, 30)]:
    fig.add_annotation(x=px(hx), y=py(hy), xref="paper", yref="paper", ax=ax, ay=ay,
                       text="", showarrow=True, arrowhead=2, arrowsize=1.4, arrowwidth=1,
                       arrowcolor=BLACK)

# axis titles
for (xp, yp, txt) in [(40, 227, "<i>u</i>[m·s<sup>−1</sup>]"),
                      (28, 535, "<i>v</i>[m·s<sup>−1</sup>]"),
                      (29, 843, "<i>r</i>[rad·s<sup>−1</sup>]")]:
    fig.add_annotation(x=px(xp), y=py(yp), xref="paper", yref="paper", text=txt,
                       textangle=-90, showarrow=False, xanchor="center", yanchor="middle",
                       font=dict(family=SERIF, size=25, color=TXT))
for (xp, yp) in [(518, 395), (521, 702), (518, 1011)]:
    fig.add_annotation(x=px(xp), y=py(yp), xref="paper", yref="paper", text="<i>t</i>[s]",
                       showarrow=False, xanchor="center", yanchor="middle",
                       font=dict(family=SERIF, size=26, color=TXT))

fig.add_annotation(x=px(496), y=py(29), xref="paper", yref="paper",
                   text="The surge, sway and yaw velocities of ship.", showarrow=False,
                   xanchor="center", yanchor="middle",
                   font=dict(family=SERIF, size=45, color=BLACK))

fig.write_html("out.html")
